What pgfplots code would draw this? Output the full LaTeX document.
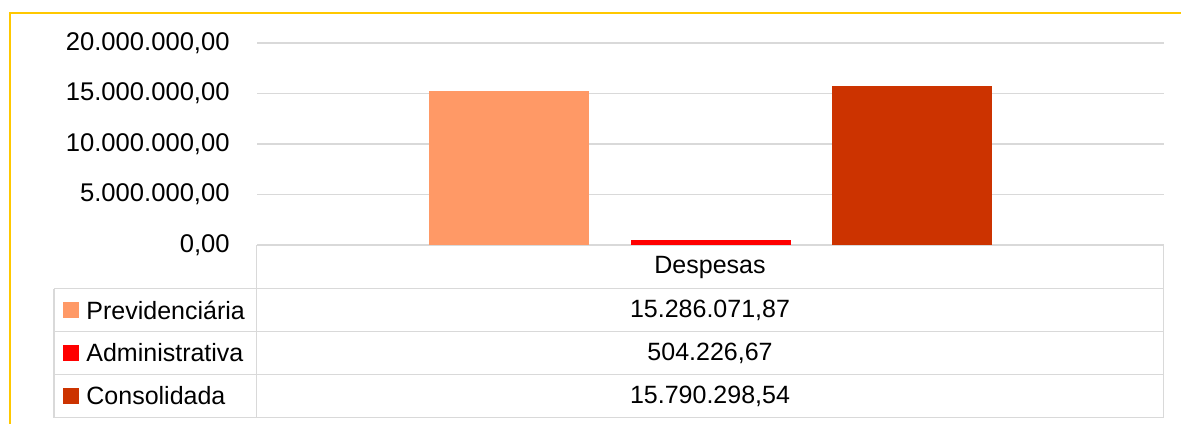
\documentclass[border=0pt]{standalone}
\usepackage{fontspec}
\setmainfont{Liberation Sans}
\usepackage{pgfplots}
\pgfplotsset{compat=1.18}
\definecolor{prev}{HTML}{FF9966}
\definecolor{adm}{HTML}{FF0000}
\definecolor{cons}{HTML}{CC3300}
\definecolor{grade}{HTML}{D9D9D9}
\definecolor{moldura}{HTML}{FFC800}
\begin{document}
\fontsize{12.5}{15}\selectfont
\begin{tikzpicture}
\begin{axis}[at={(128.5pt,-122.5pt)}, anchor=south west, scale only axis,
  width=453.5pt, height=101pt,
  xmin=-2.256, xmax=2.256, ymin=0, ymax=20000000,
  ytick={0,5000000,10000000,15000000,20000000}, xtick=\empty,
  ymajorgrids, grid style={grade, line width=0.9pt},
  axis line style={draw=none}, major tick length=0pt,
  scaled y ticks=false,
  yticklabel style={font=\fontsize{12.8}{15}\selectfont, inner sep=0pt, xshift=-13.5pt,
    /pgf/number format/fixed, /pgf/number format/fixed zerofill,
    /pgf/number format/precision=2, /pgf/number format/use comma,
    /pgf/number format/1000 sep={.}, /pgf/number format/assume math mode=true},
  ybar, bar width=80pt]
\addplot[ybar, bar shift=0pt, fill=prev, draw=none] coordinates {(-1,15286071.87)};
\addplot[ybar, bar shift=0pt, fill=adm, draw=none] coordinates {(0,504226.67)};
\addplot[ybar, bar shift=0pt, fill=cons, draw=none] coordinates {(1,15790298.54)};
\end{axis}
\begin{scope}[x=0.5pt, y=-0.5pt]
  \useasboundingbox (0,0) rectangle (1181,424);
  % moldura
  \draw[moldura, line width=1pt] (9.5,424) -- (9.5,12.5) -- (1181,12.5);
  % tabela de dados
  \draw[grade, line width=0.9pt] (256.5,245) -- (256.5,417.5);
  \draw[grade, line width=0.9pt] (1163.5,245) -- (1163.5,417.5);
  \draw[grade, line width=0.9pt] (54,288.5) -- (54,417.5);
  \foreach \yy in {288.5,331.5,374.5,417.5}
    \draw[grade, line width=0.9pt] (54,\yy) -- (1163.5,\yy);
  \node at (710,267) {Despesas};
  \fill[prev] (63,302) rectangle (79,318);
  \fill[adm] (63,345) rectangle (79,361);
  \fill[cons] (63,388) rectangle (79,404);
  \node[anchor=west, inner sep=0pt] at (86,310) {Previdenciária};
  \node[anchor=west, inner sep=0pt] at (86,353) {Administrativa};
  \node[anchor=west, inner sep=0pt] at (86,396) {Consolidada};
  \node at (710,310) {15.286.071,87};
  \node at (710,353) {504.226,67};
  \node at (710,396) {15.790.298,54};
\end{scope}
\end{tikzpicture}
\end{document}
